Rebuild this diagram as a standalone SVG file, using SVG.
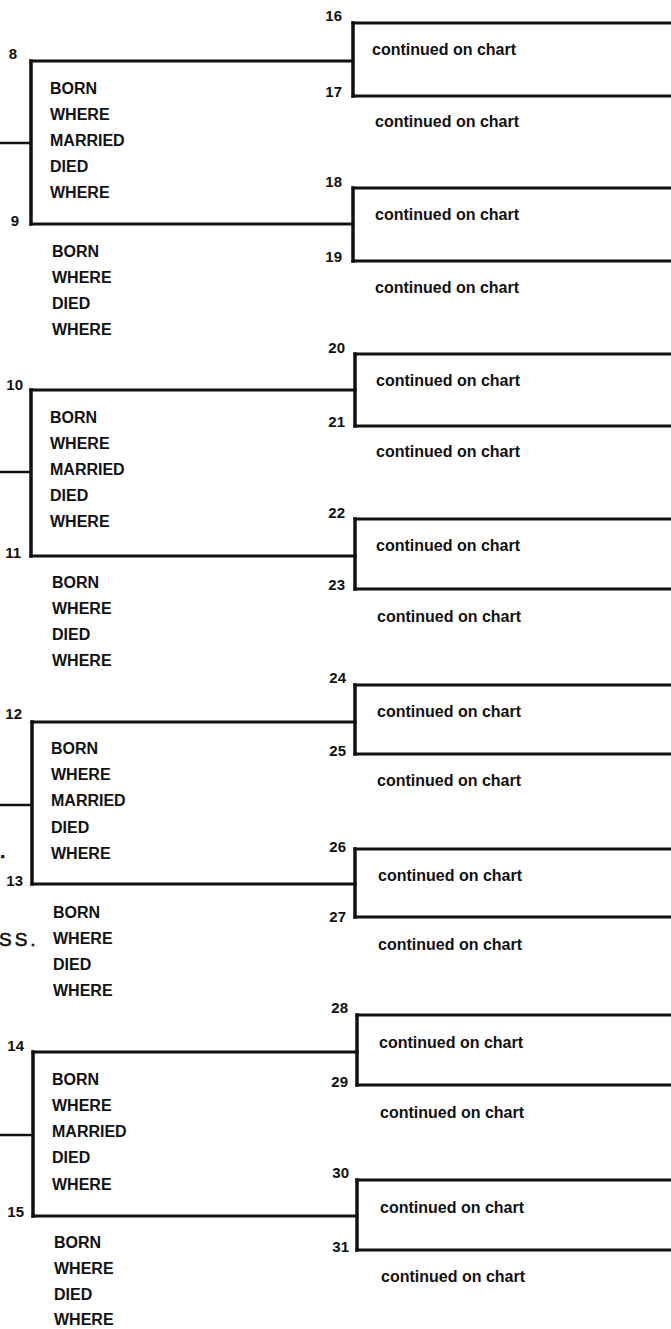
<svg xmlns="http://www.w3.org/2000/svg" width="671" height="1329" viewBox="0 0 671 1329">
<style>
.t{font-family:"Liberation Sans",Arial,sans-serif;font-weight:bold;font-size:16px;fill:#111}
.n{font-family:"Liberation Sans",Arial,sans-serif;font-weight:bold;font-size:15px;fill:#111;text-anchor:end}
.s{font-family:"Liberation Sans",Arial,sans-serif;font-size:19px;letter-spacing:3px;fill:#111;stroke:#111;stroke-width:0.6}
.ln{stroke:#111;stroke-width:3;stroke-linecap:square;fill:none}
.cn{stroke:#111;stroke-width:3.5;stroke-linecap:square;fill:none}
.st{stroke:#111;stroke-width:2.5;fill:none}
</style>
<rect width="671" height="1329" fill="#fff"/>

<g id="connectors">
  <line class="st" x1="0" y1="143" x2="31" y2="143"/>
  <line class="st" x1="0" y1="472" x2="31" y2="472"/>
  <line class="st" x1="0" y1="805" x2="32" y2="805"/>
  <line class="st" x1="0" y1="1135" x2="33" y2="1135"/>
  <line class="cn" x1="31" y1="61" x2="31" y2="224"/>
  <line class="cn" x1="31" y1="390" x2="31" y2="556"/>
  <line class="cn" x1="32" y1="722" x2="32" y2="884"/>
  <line class="cn" x1="33" y1="1052" x2="33" y2="1216"/>
  <line class="cn" x1="353" y1="23" x2="353" y2="96"/>
  <line class="cn" x1="353" y1="188" x2="353" y2="261"/>
  <line class="cn" x1="355" y1="354" x2="355" y2="426"/>
  <line class="cn" x1="355" y1="519" x2="355" y2="589"/>
  <line class="cn" x1="355" y1="685" x2="355" y2="754"/>
  <line class="cn" x1="355" y1="849" x2="355" y2="917"/>
  <line class="cn" x1="357" y1="1015" x2="357" y2="1085"/>
  <line class="cn" x1="357" y1="1180" x2="357" y2="1250"/>
</g>

<text class="s" x="-1" y="946">SS.</text>
<text class="s" x="0" y="858" style="font-weight:bold">.</text>

<g id="p8">
  <line class="ln" x1="31" y1="61" x2="353" y2="61"/>
  <text class="n" x="17" y="59">8</text>
  <text class="t" x="50" y="94">BORN</text>
  <text class="t" x="50" y="120">WHERE</text>
  <text class="t" x="50" y="146">MARRIED</text>
  <text class="t" x="50" y="172">DIED</text>
  <text class="t" x="50" y="198">WHERE</text>
</g>
<g id="p9">
  <line class="ln" x1="31" y1="224" x2="353" y2="224"/>
  <text class="n" x="19" y="226">9</text>
  <text class="t" x="52" y="257">BORN</text>
  <text class="t" x="52" y="283">WHERE</text>
  <text class="t" x="52" y="309">DIED</text>
  <text class="t" x="52" y="335">WHERE</text>
</g>
<g id="p10">
  <line class="ln" x1="31" y1="390" x2="355" y2="390"/>
  <text class="n" x="23" y="390">10</text>
  <text class="t" x="50" y="423">BORN</text>
  <text class="t" x="50" y="449">WHERE</text>
  <text class="t" x="50" y="475">MARRIED</text>
  <text class="t" x="50" y="501">DIED</text>
  <text class="t" x="50" y="527">WHERE</text>
</g>
<g id="p11">
  <line class="ln" x1="31" y1="556" x2="355" y2="556"/>
  <text class="n" x="21" y="558">11</text>
  <text class="t" x="52" y="588">BORN</text>
  <text class="t" x="52" y="614">WHERE</text>
  <text class="t" x="52" y="640">DIED</text>
  <text class="t" x="52" y="666">WHERE</text>
</g>
<g id="p12">
  <line class="ln" x1="32" y1="722" x2="355" y2="722"/>
  <text class="n" x="22" y="719">12</text>
  <text class="t" x="51" y="754">BORN</text>
  <text class="t" x="51" y="780">WHERE</text>
  <text class="t" x="51" y="806">MARRIED</text>
  <text class="t" x="51" y="833">DIED</text>
  <text class="t" x="51" y="859">WHERE</text>
</g>
<g id="p13">
  <line class="ln" x1="32" y1="884" x2="355" y2="884"/>
  <text class="n" x="23" y="886">13</text>
  <text class="t" x="53" y="918">BORN</text>
  <text class="t" x="53" y="944">WHERE</text>
  <text class="t" x="53" y="970">DIED</text>
  <text class="t" x="53" y="996">WHERE</text>
</g>
<g id="p14">
  <line class="ln" x1="33" y1="1052" x2="357" y2="1052"/>
  <text class="n" x="24" y="1051">14</text>
  <text class="t" x="52" y="1085">BORN</text>
  <text class="t" x="52" y="1111">WHERE</text>
  <text class="t" x="52" y="1137">MARRIED</text>
  <text class="t" x="52" y="1163">DIED</text>
  <text class="t" x="52" y="1190">WHERE</text>
</g>
<g id="p15">
  <line class="ln" x1="33" y1="1216" x2="357" y2="1216"/>
  <text class="n" x="24" y="1217">15</text>
  <text class="t" x="54" y="1248">BORN</text>
  <text class="t" x="54" y="1274">WHERE</text>
  <text class="t" x="54" y="1300">DIED</text>
  <text class="t" x="54" y="1325">WHERE</text>
</g>

<g id="p16"><line class="ln" x1="353" y1="23" x2="671" y2="23"/><text class="n" x="342" y="21">16</text><text class="t" x="372" y="55">continued on chart</text></g>
<g id="p17"><line class="ln" x1="353" y1="96" x2="671" y2="96"/><text class="n" x="342" y="97">17</text><text class="t" x="375" y="127">continued on chart</text></g>
<g id="p18"><line class="ln" x1="353" y1="188" x2="671" y2="188"/><text class="n" x="342" y="187">18</text><text class="t" x="375" y="220">continued on chart</text></g>
<g id="p19"><line class="ln" x1="353" y1="261" x2="671" y2="261"/><text class="n" x="342" y="262">19</text><text class="t" x="375" y="293">continued on chart</text></g>
<g id="p20"><line class="ln" x1="355" y1="354" x2="671" y2="354"/><text class="n" x="345" y="353">20</text><text class="t" x="376" y="386">continued on chart</text></g>
<g id="p21"><line class="ln" x1="355" y1="426" x2="671" y2="426"/><text class="n" x="345" y="427">21</text><text class="t" x="376" y="457">continued on chart</text></g>
<g id="p22"><line class="ln" x1="355" y1="519" x2="671" y2="519"/><text class="n" x="345" y="518">22</text><text class="t" x="376" y="551">continued on chart</text></g>
<g id="p23"><line class="ln" x1="355" y1="589" x2="671" y2="589"/><text class="n" x="345" y="590">23</text><text class="t" x="377" y="622">continued on chart</text></g>
<g id="p24"><line class="ln" x1="355" y1="685" x2="671" y2="685"/><text class="n" x="346" y="683">24</text><text class="t" x="377" y="717">continued on chart</text></g>
<g id="p25"><line class="ln" x1="355" y1="754" x2="671" y2="754"/><text class="n" x="346" y="756">25</text><text class="t" x="377" y="786">continued on chart</text></g>
<g id="p26"><line class="ln" x1="355" y1="849" x2="671" y2="849"/><text class="n" x="346" y="852">26</text><text class="t" x="378" y="881">continued on chart</text></g>
<g id="p27"><line class="ln" x1="355" y1="917" x2="671" y2="917"/><text class="n" x="346" y="922">27</text><text class="t" x="378" y="950">continued on chart</text></g>
<g id="p28"><line class="ln" x1="357" y1="1015" x2="671" y2="1015"/><text class="n" x="348" y="1013">28</text><text class="t" x="379" y="1048">continued on chart</text></g>
<g id="p29"><line class="ln" x1="357" y1="1085" x2="671" y2="1085"/><text class="n" x="348" y="1087">29</text><text class="t" x="380" y="1118">continued on chart</text></g>
<g id="p30"><line class="ln" x1="357" y1="1180" x2="671" y2="1180"/><text class="n" x="349" y="1178">30</text><text class="t" x="380" y="1213">continued on chart</text></g>
<g id="p31"><line class="ln" x1="357" y1="1250" x2="671" y2="1250"/><text class="n" x="349" y="1252">31</text><text class="t" x="381" y="1282">continued on chart</text></g>
</svg>
